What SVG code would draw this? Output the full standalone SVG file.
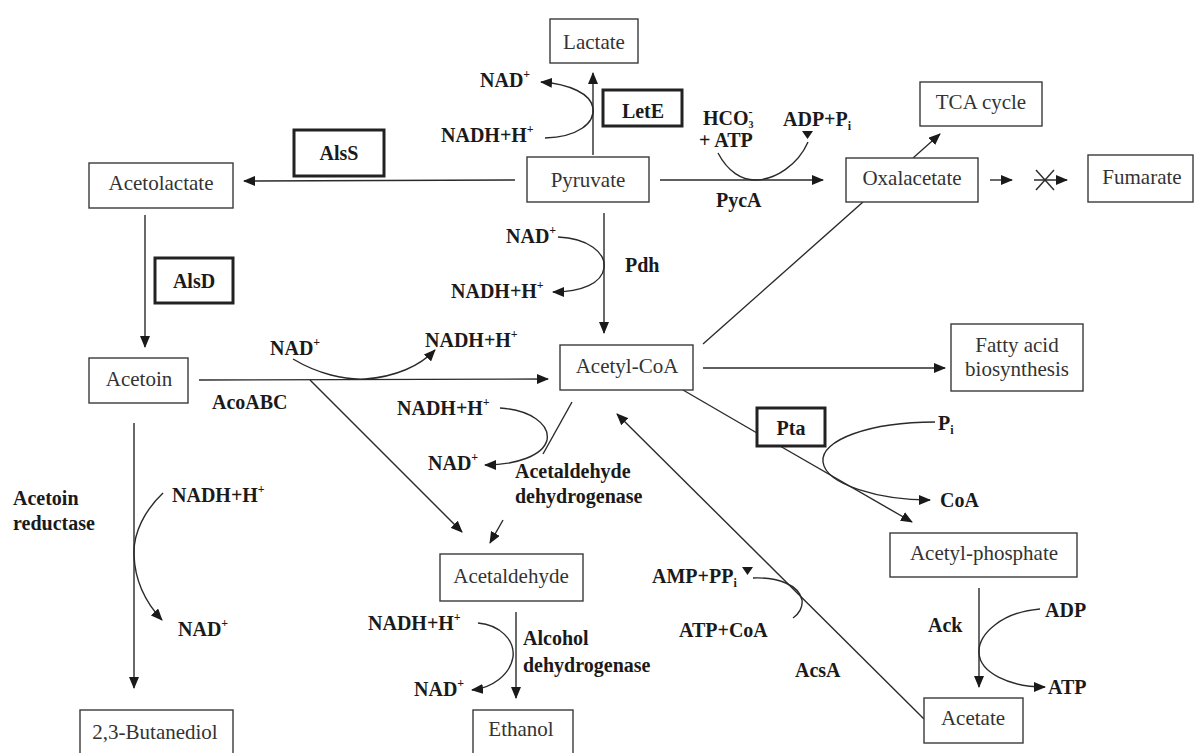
<svg xmlns="http://www.w3.org/2000/svg" width="1198" height="753" viewBox="0 0 1198 753">
<defs>
<style>
.n rect{fill:#fff;stroke:#3a3a3a;stroke-width:1.4}
.e rect{fill:#fff;stroke:#222;stroke-width:3}
.nt{font-family:"Liberation Serif","Times New Roman",serif;font-size:21px;fill:#333;text-anchor:middle}
.lb{font-family:"Liberation Serif","Times New Roman",serif;font-size:20px;font-weight:bold;fill:#1a1a1a}
.et{text-anchor:middle}
.c line,.c path{fill:none;stroke:#2a2a2a;stroke-width:1.4}
.a{marker-end:url(#ah)}
</style>
<marker id="ah" markerUnits="userSpaceOnUse" markerWidth="12" markerHeight="10" viewBox="0 0 12 10" refX="11" refY="5" orient="auto">
<path d="M0,0 L12,5 L0,10 z" fill="#1a1a1a"/>
</marker>
</defs>
<rect width="1198" height="753" fill="#fff"/>

<g class="c" id="connectors">
<line class="a" x1="593" y1="155" x2="593" y2="73"/>
<path class="a" d="M545,138 C578,137 595,123 593,108 C591,94 570,84 541,82"/>
<line class="a" x1="515" y1="180" x2="244" y2="181"/>
<line class="a" x1="660" y1="180" x2="823" y2="180"/>
<path d="M718,153 C728,172 742,180 755,180 C775,180 798,165 808,142"/>
<polygon points="802,131 813,131 807.5,139" fill="#1a1a1a"/>
<line class="a" x1="913" y1="158" x2="940" y2="134"/>
<line class="a" x1="990" y1="180" x2="1012" y2="180"/>
<line class="a" x1="1034" y1="180" x2="1067" y2="180"/>
<line x1="1036" y1="170" x2="1054" y2="190"/>
<line x1="1036" y1="190" x2="1054" y2="170"/>
<line class="a" x1="145" y1="215" x2="145" y2="347"/>
<line class="a" x1="604" y1="213" x2="604" y2="333"/>
<path class="a" d="M558,237 C588,238 606,253 604,268 C602,283 582,292 553,292"/>
<line class="a" x1="199" y1="380" x2="548" y2="379"/>
<path class="a" d="M293,359 C318,374 345,380 365,379 C395,377 420,366 435,350"/>
<line class="a" x1="310" y1="380" x2="462" y2="532"/>
<line class="a" x1="703" y1="368" x2="945" y2="368"/>
<line x1="703" y1="344" x2="863" y2="202"/>
<line x1="572" y1="402" x2="543" y2="454"/>
<line class="a" x1="503" y1="520" x2="490" y2="543"/>
<path class="a" d="M500,408 C530,410 550,424 547,440 C543,456 515,465 485,465"/>
<line x1="683" y1="390" x2="757" y2="433"/>
<line class="a" x1="780" y1="446" x2="912" y2="522"/>
<path class="a" d="M935,422 C870,422 820,440 823,462 C826,485 880,500 930,500"/>
<line class="a" x1="979" y1="588" x2="979" y2="687"/>
<path class="a" d="M1040,609 C1002,612 978,634 979,653 C980,672 1008,687 1045,687"/>
<line class="a" x1="924" y1="719" x2="617" y2="414"/>
<path d="M753,578 C778,577 799,585 802,600 C803,607 799,614 793,618"/>
<polygon points="742,567 753,567 747.5,575" fill="#1a1a1a"/>
<line class="a" x1="516" y1="612" x2="516" y2="698"/>
<path class="a" d="M478,623 C500,625 515,640 513,657 C510,675 492,688 472,690"/>
<line class="a" x1="134" y1="423" x2="134" y2="688"/>
<path class="a" d="M163,493 C145,510 133,533 134,555 C135,583 147,604 162,620"/>
</g>

<g id="lactate" class="n"><rect x="550" y="19" width="88" height="44"/><text class="nt" x="594" y="49">Lactate</text></g>
<g id="pyruvate" class="n"><rect x="527" y="157" width="122" height="45"/><text class="nt" x="588" y="187">Pyruvate</text></g>
<g id="acetolactate" class="n"><rect x="89" y="163" width="144" height="45"/><text class="nt" x="161" y="190">Acetolactate</text></g>
<g id="oxalacetate" class="n"><rect x="846" y="158" width="132" height="44"/><text class="nt" x="912" y="185">Oxalacetate</text></g>
<g id="tca" class="n"><rect x="920" y="82" width="122" height="44"/><text class="nt" x="981" y="109">TCA cycle</text></g>
<g id="fumarate" class="n"><rect x="1088" y="155" width="105" height="47"/><text class="nt" x="1142" y="184">Fumarate</text></g>
<g id="acetoin" class="n"><rect x="89" y="358" width="99" height="45"/><text class="nt" x="139" y="386">Acetoin</text></g>
<g id="acetylcoa" class="n"><rect x="560" y="345" width="133" height="45"/><text class="nt" x="627" y="373">Acetyl-CoA</text></g>
<g id="fatty" class="n"><rect x="951" y="324" width="132" height="67"/><text class="nt" x="1017" y="352">Fatty acid</text><text class="nt" x="1017" y="376">biosynthesis</text></g>
<g id="acetaldehyde" class="n"><rect x="440" y="554" width="143" height="47"/><text class="nt" x="511" y="583">Acetaldehyde</text></g>
<g id="ethanol" class="n"><rect x="473" y="710" width="100" height="44"/><text class="nt" x="521" y="736">Ethanol</text></g>
<g id="butanediol" class="n"><rect x="80" y="710" width="153" height="44"/><text class="nt" x="155" y="739">2,3-Butanediol</text></g>
<g id="acetylphosphate" class="n"><rect x="890" y="533" width="187" height="44"/><text class="nt" x="984" y="560">Acetyl-phosphate</text></g>
<g id="acetate" class="n"><rect x="924" y="698" width="99" height="45"/><text class="nt" x="973" y="725">Acetate</text></g>

<g id="alss" class="e"><rect x="294" y="130" width="90" height="46"/><text class="lb et" x="339" y="160">AlsS</text></g>
<g id="alsd" class="e"><rect x="155" y="258" width="78" height="45"/><text class="lb et" x="194" y="288">AlsD</text></g>
<g id="lete" class="e"><rect x="603" y="90" width="79" height="36"/><text class="lb et" x="643" y="118">LetE</text></g>
<g id="pta" class="e"><rect x="757" y="408" width="68" height="38"/><text class="lb et" x="791" y="435">Pta</text></g>

<g id="labels">
<text class="lb" x="480" y="87">NAD<tspan font-size="12" dy="-9">+</tspan></text>
<text class="lb" x="441" y="142">NADH+H<tspan font-size="12" dy="-9">+</tspan></text>
<text class="lb" x="703" y="125" font-size="16">HCO<tspan font-size="10" dy="3">3</tspan><tspan font-size="12" dx="-5" dy="-12">-</tspan></text>
<text class="lb" x="699" y="147" font-size="16">+ ATP</text>
<text class="lb" x="783" y="126" font-size="18">ADP+P<tspan font-size="12" dy="4">i</tspan></text>
<text class="lb" x="716" y="207">PycA</text>
<text class="lb" x="506" y="243">NAD<tspan font-size="12" dy="-9">+</tspan></text>
<text class="lb" x="451" y="298">NADH+H<tspan font-size="12" dy="-9">+</tspan></text>
<text class="lb" x="625" y="272">Pdh</text>
<text class="lb" x="270" y="355">NAD<tspan font-size="12" dy="-9">+</tspan></text>
<text class="lb" x="425" y="347">NADH+H<tspan font-size="12" dy="-9">+</tspan></text>
<text class="lb" x="212" y="409">AcoABC</text>
<text class="lb" x="397" y="415">NADH+H<tspan font-size="12" dy="-9">+</tspan></text>
<text class="lb" x="428" y="470">NAD<tspan font-size="12" dy="-9">+</tspan></text>
<text class="lb" x="515" y="478">Acetaldehyde</text>
<text class="lb" x="515" y="503">dehydrogenase</text>
<text class="lb" x="13" y="505">Acetoin</text>
<text class="lb" x="13" y="530">reductase</text>
<text class="lb" x="172" y="502">NADH+H<tspan font-size="12" dy="-9">+</tspan></text>
<text class="lb" x="178" y="636">NAD<tspan font-size="12" dy="-9">+</tspan></text>
<text class="lb" x="368" y="630">NADH+H<tspan font-size="12" dy="-9">+</tspan></text>
<text class="lb" x="414" y="696">NAD<tspan font-size="12" dy="-9">+</tspan></text>
<text class="lb" x="523" y="645">Alcohol</text>
<text class="lb" x="523" y="672">dehydrogenase</text>
<text class="lb" x="652" y="583">AMP+PP<tspan font-size="12" dy="4">i</tspan></text>
<text class="lb" x="679" y="637">ATP+CoA</text>
<text class="lb" x="795" y="677">AcsA</text>
<text class="lb" x="938" y="430">P<tspan font-size="12" dy="4">i</tspan></text>
<text class="lb" x="940" y="507" font-size="15">CoA</text>
<text class="lb" x="928" y="632">Ack</text>
<text class="lb" x="1045" y="617">ADP</text>
<text class="lb" x="1048" y="694">ATP</text>
</g>
</svg>
